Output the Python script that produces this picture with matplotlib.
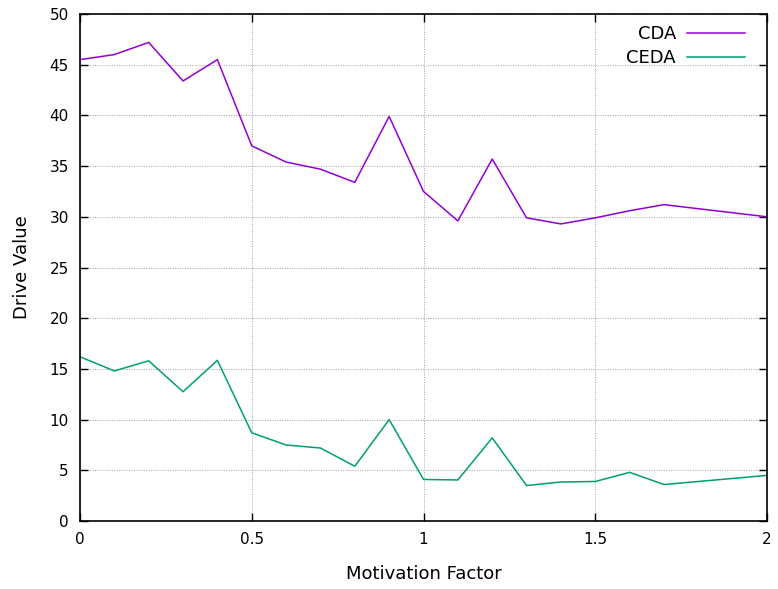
import matplotlib
matplotlib.use('Agg')
import matplotlib.pyplot as plt

# Motivation factor samples (points at 1.8 and 1.9 are not visible as kinks)
motivation = [0.0, 0.1, 0.2, 0.3, 0.4, 0.5, 0.6, 0.7, 0.8, 0.9,
              1.0, 1.1, 1.2, 1.3, 1.4, 1.5, 1.6, 1.7, 2.0]

cda = [45.5, 46.0, 47.2, 43.4, 45.5, 37.0, 35.4, 34.7, 33.4, 39.9,
       32.5, 29.6, 35.7, 29.9, 29.3, 29.9, 30.6, 31.2, 30.0]

ceda = [16.2, 14.8, 15.8, 12.75, 15.85, 8.7, 7.5, 7.2, 5.4, 10.0,
        4.1, 4.05, 8.2, 3.5, 3.85, 3.9, 4.8, 3.6, 4.5]

x_ticks = [0, 0.5, 1, 1.5, 2]
x_labels = ['0', '0.5', '1', '1.5', '2']
y_ticks = list(range(0, 51, 5))

fig = plt.figure(figsize=(7.78, 5.89), dpi=100)
ax = fig.add_axes([0.1028, 0.1154, 0.8831, 0.8608])

ax.plot(motivation, cda, color='#9400D3', lw=1.1, label='CDA')
ax.plot(motivation, ceda, color='#009E73', lw=1.1, label='CEDA')

ax.set_xlim(0, 2)
ax.set_ylim(0, 50)
ax.set_xticks(x_ticks)
ax.set_xticklabels(x_labels)
ax.set_yticks(y_ticks)

ax.tick_params(direction='in', length=6, width=1.0, top=True, right=True,
               labelsize=11, pad=8, colors='black')
ax.grid(True, color='#a0a0a0', linestyle=(0, (1, 1.5)), linewidth=0.7)
for s in ax.spines.values():
    s.set_linewidth(1.2)

ax.set_xlabel('Motivation Factor', fontsize=13, labelpad=13)
ax.set_ylabel('Drive Value', fontsize=13, labelpad=13)

ax.legend(loc='upper right', frameon=False, markerfirst=False, fontsize=13,
          handlelength=3.2, handletextpad=0.6, labelspacing=0.32,
          borderaxespad=0.0, bbox_to_anchor=(0.978, 0.992))

fig.savefig('out.png', dpi=100)
